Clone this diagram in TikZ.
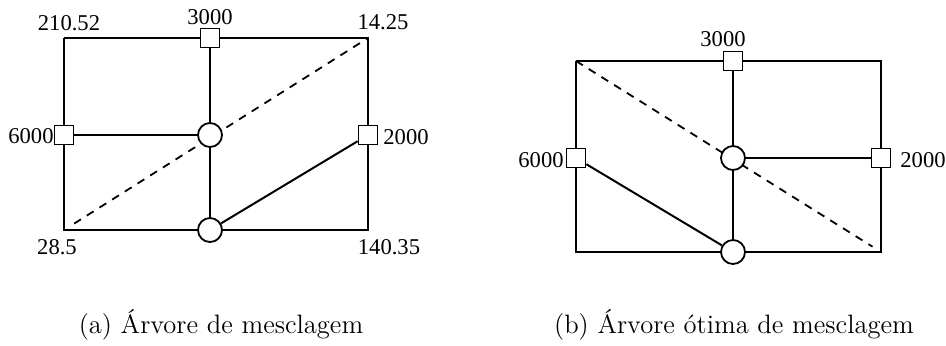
\documentclass[tikz,border=0pt]{standalone}
\usepackage{fontspec}
\newfontfamily\labelfont{Liberation Serif}
\usetikzlibrary{positioning}

\begin{document}
\begin{tikzpicture}[x=0.5pt, y=-0.5pt,
  sqnode/.style={rectangle, draw=black, fill=white, line width=0.9pt,
                 minimum size=9.5pt, inner sep=0pt},
  cnode/.style={circle, draw=black, fill=white, line width=0.9pt,
                minimum size=12pt, inner sep=0pt},
  lbl/.style={font=\labelfont\fontsize{11.3}{13}\selectfont, inner sep=0pt},
  capnode/.style={font=\fontsize{13.3}{16}\selectfont, inner sep=0pt, anchor=base},
  frame/.style={line width=1pt},
  fine/.style={line width=0.6pt},
  diag/.style={line width=0.9pt, dash pattern=on 4pt off 3.5pt}
]
\useasboundingbox (0,0) rectangle (946,345);

% (a)
\coordinate (a-tl) at (64,38);  \coordinate (a-tr) at (368,38);
\coordinate (a-bl) at (64,230); \coordinate (a-br) at (368,230);
\draw[diag, shorten <=6pt] (a-bl) -- (a-tr);
\node[sqnode] (a-top)   at (210,38)  {};
\node[sqnode] (a-left)  at (64,135)  {};
\node[sqnode] (a-right) at (368,135) {};
\node[cnode]  (a-mid)   at (210,135) {};
\node[cnode]  (a-bot)   at (210,230) {};
\draw[frame] (a-tl) -- (a-top) -- (a-tr) -- (a-right) -- (a-br) -- (a-bot) -- (a-bl) -- (a-left) -- (a-tl);
\draw[fine] (a-top) -- (a-mid); \draw[fine] (a-left) -- (a-mid);
\draw[frame] (a-mid) -- (a-bot); \draw[frame] (a-bot) -- (a-right);
\node[lbl] (a-l1) at (69,23) {210.52};
\node[lbl] (a-l2) at (210,17) {3000};
\node[lbl] (a-l3) at (383,22) {14.25};
\node[lbl, anchor=east] (a-l4) at (54,136) {6000};
\node[lbl, anchor=west] (a-l5) at (383,137) {2000};
\node[lbl] (a-l6) at (57,247) {28.5};
\node[lbl] (a-l7) at (389,247) {140.35};
\node[capnode] (a-cap) at (221,333) {(a) Árvore de mesclagem};

% (b)
\coordinate (b-tl) at (576,61);  \coordinate (b-tr) at (881,61);
\coordinate (b-bl) at (576,252); \coordinate (b-br) at (881,252);
\draw[diag, shorten >=5pt] (b-tl) -- (b-br);
\node[sqnode] (b-top)   at (733,61)  {};
\node[sqnode] (b-left)  at (576,158) {};
\node[sqnode] (b-right) at (881,158) {};
\node[cnode]  (b-mid)   at (733,158) {};
\node[cnode]  (b-bot)   at (733,252) {};
\draw[frame] (b-tl) -- (b-top) -- (b-tr) -- (b-right) -- (b-br) -- (b-bot) -- (b-bl) -- (b-left) -- (b-tl);
\draw[fine] (b-top) -- (b-mid);
\draw[frame] (b-mid) -- (b-right); \draw[frame] (b-mid) -- (b-bot);
\draw[frame] (b-left) -- (b-bot);
\node[lbl] (b-l1) at (723,39) {3000};
\node[lbl, anchor=east] (b-l2) at (564,160) {6000};
\node[lbl, anchor=west] (b-l3) at (900,160) {2000};
\node[capnode] (b-cap) at (734,333) {(b) Árvore ótima de mesclagem};
\end{tikzpicture}
\end{document}
